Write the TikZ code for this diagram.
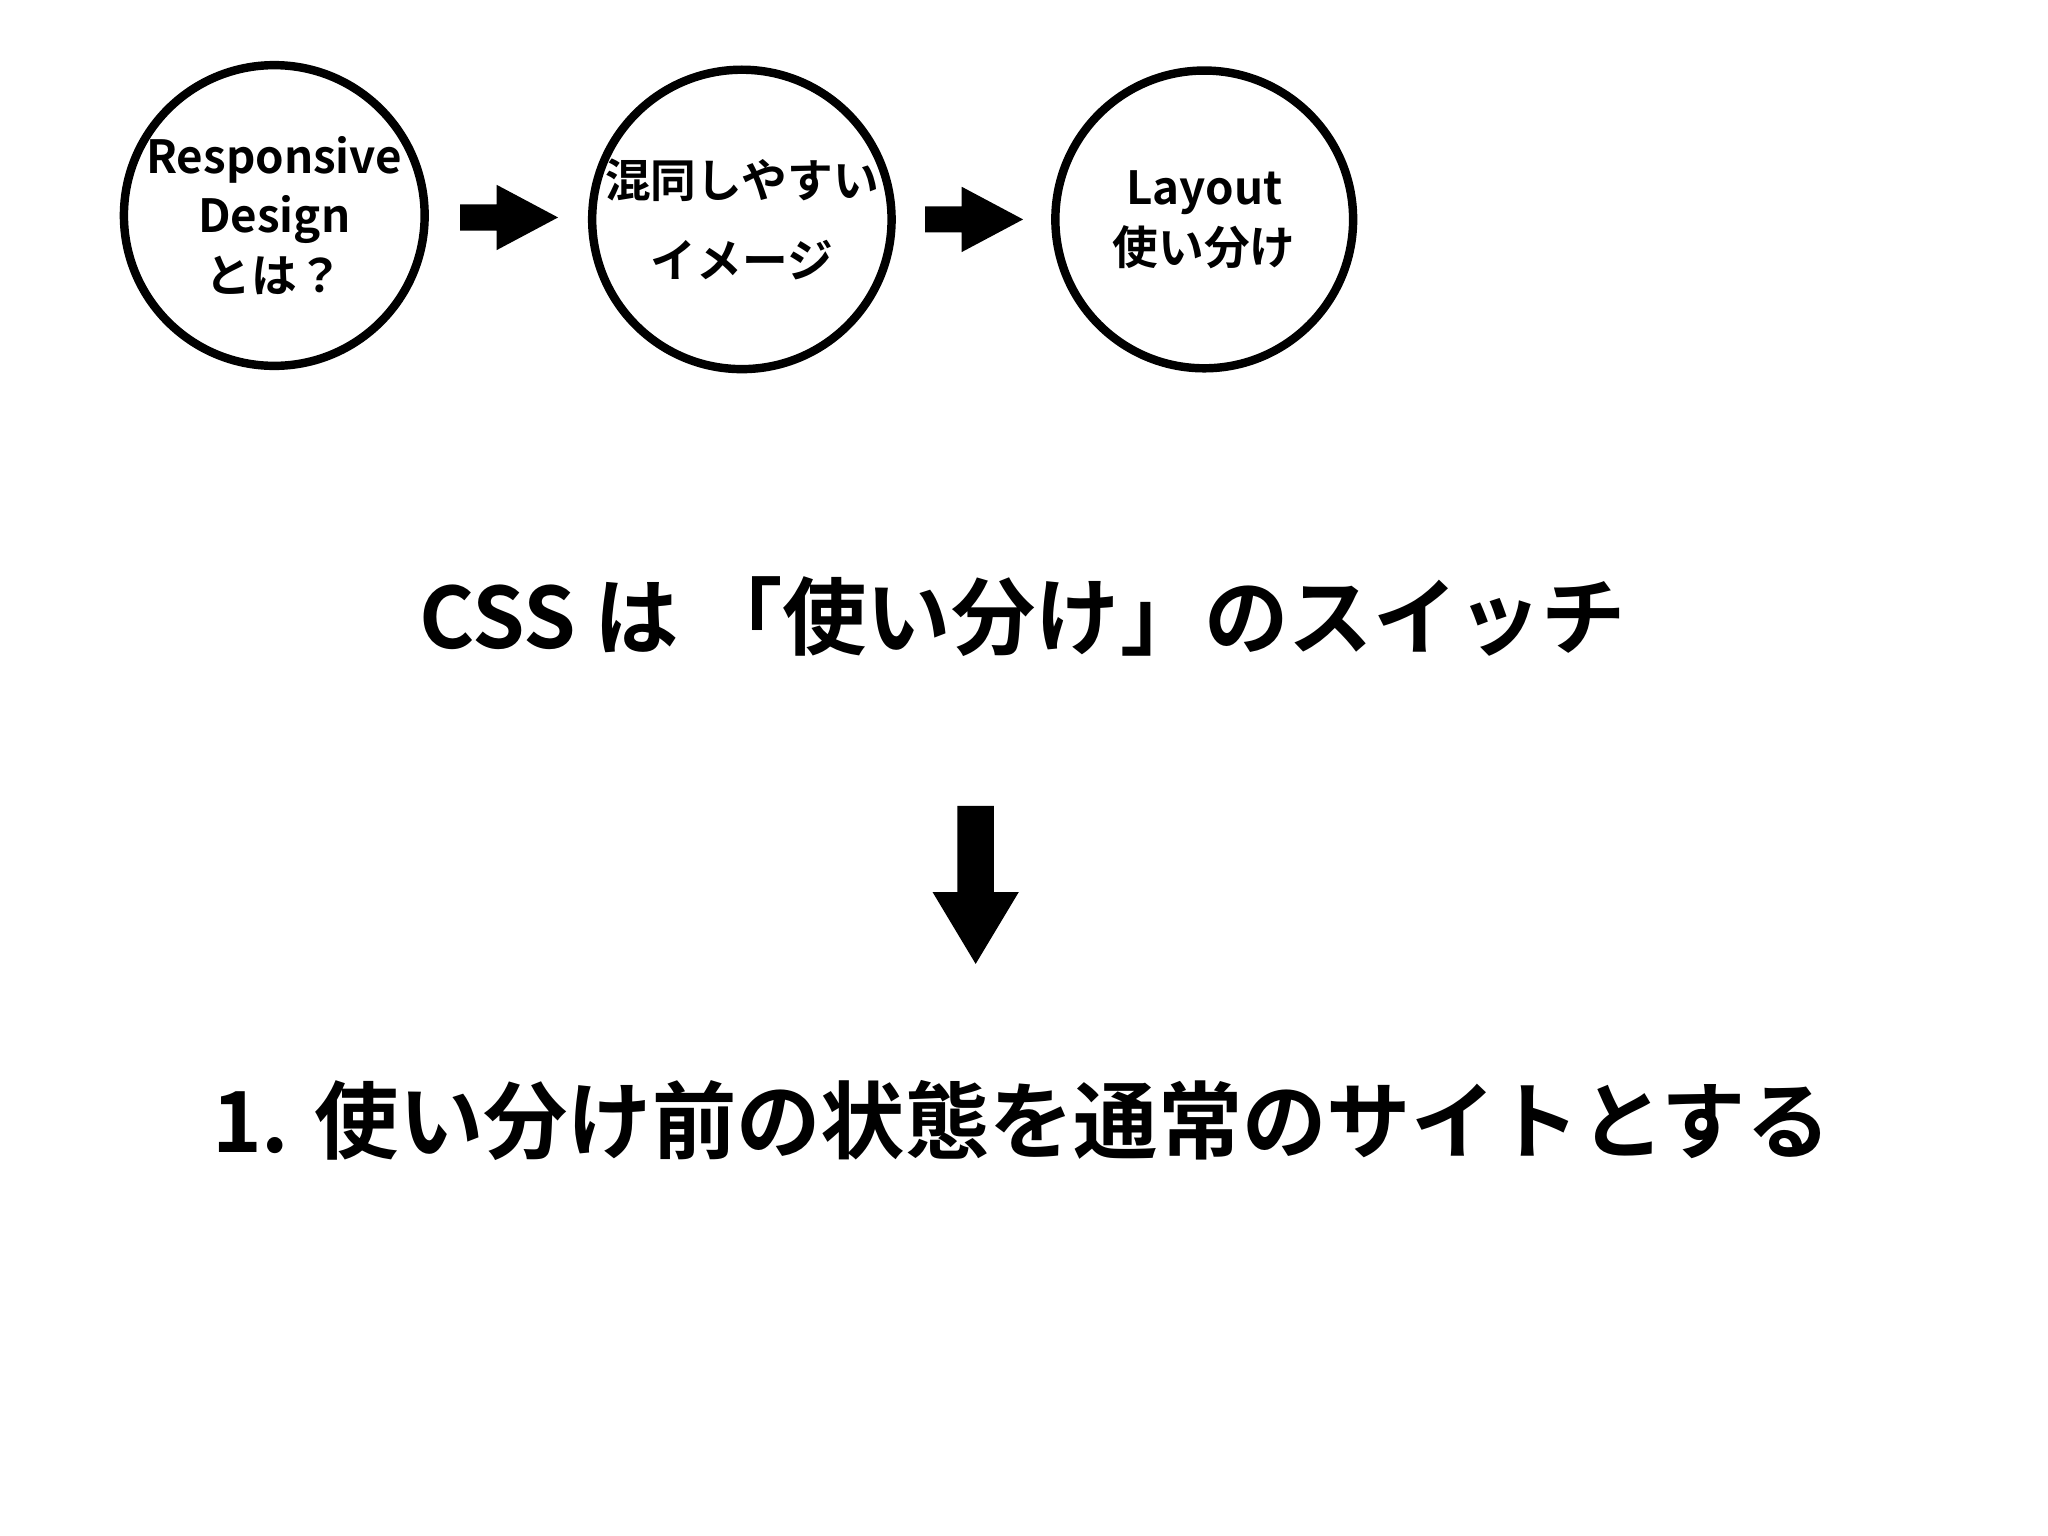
\documentclass[tikz,border=0pt]{standalone}
\usepackage{fontspec}
\setmainfont{Noto Sans CJK JP}[BoldFont={* Bold}]
\newfontfamily\jp{Noto Sans CJK JP Bold}
\begin{document}
\begin{tikzpicture}[x=0.013061cm,y=-0.013061cm,
  circ/.style={draw,line width=2.4pt,circle,minimum size=2.4cm*1.306*0.95,inner sep=0pt,align=center,font=\jp\fontsize{13}{17}\selectfont},
  blk/.style={fill=black,draw=none}]
\useasboundingbox (0,0) rectangle (1568,1176);
\fill[white] (0,0) rectangle (1568,1176);
\node[circ] (c1) at (210,165) {Responsive\\Design\\とは？};
\node[circ] (c2) at (568,168) {混同しやすい\\[6pt]イメージ};
\node[circ] (c3) at (922,168) {Layout\\使い分け};
\path (c1.east) -- coordinate (a1) (c2.west);
\path (c2.east) -- coordinate (a2) (c3.west);
\foreach \a in {a1,a2}{
  \fill[blk] ([shift={(-37,-10)}]\a) -- ([shift={(-9,-10)}]\a) -- ([shift={(-9,-25)}]\a) -- ([shift={(38,0)}]\a) -- ([shift={(-9,25)}]\a) -- ([shift={(-9,10)}]\a) -- ([shift={(-37,10)}]\a) -- cycle;}
\node[font=\jp\fontsize{24}{28}\selectfont] (t1) at (783,472) {CSS は 「使い分け」のスイッチ};
\coordinate (d) at (747,617);
\fill[blk] (733,617) -- (761,617) -- (761,683) -- (780,683) -- (747,738) -- (714,683) -- (733,683) -- cycle;
\node[font=\jp\fontsize{24}{28}\selectfont] (t2) at (782,858) {1. 使い分け前の状態を通常のサイトとする};
\end{tikzpicture}
\end{document}
